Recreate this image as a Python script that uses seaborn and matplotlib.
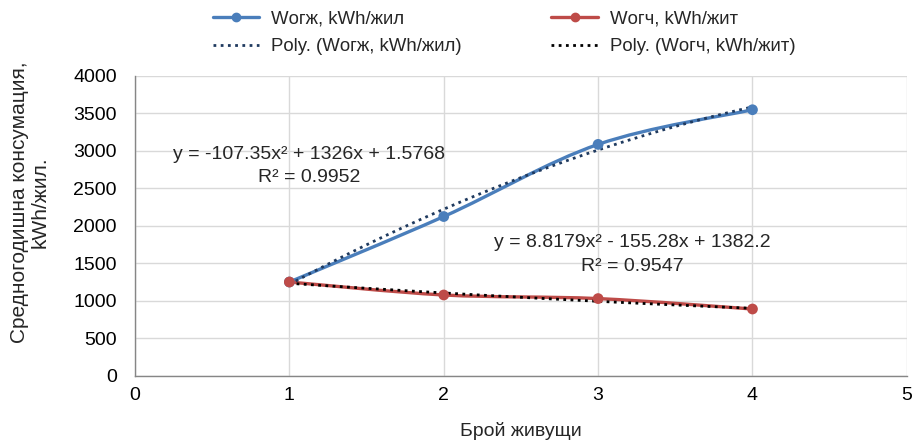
import numpy as np
import pandas as pd
import matplotlib
matplotlib.use("Agg")
import matplotlib.pyplot as plt
import seaborn as sns
from matplotlib.path import Path
from matplotlib.patches import PathPatch
from matplotlib.lines import Line2D

# ---- data ----
residents = [1, 2, 3, 4]
w_ogzh = [1253, 2126, 3088, 3550]   # Wогж, kWh/жил
w_ogch = [1253, 1080, 1032, 893]    # Wогч, kWh/жит
# polynomial trend coefficients (a, b, c) as printed on the chart
coef_ogzh = [-107.35, 1326, 1.5768]
coef_ogch = [8.8179, -155.28, 1382.2]
r2_ogzh = 0.9952
r2_ogch = 0.9547
x_ticks = [0, 1, 2, 3, 4, 5]
y_ticks = [0, 500, 1000, 1500, 2000, 2500, 3000, 3500, 4000]
series_names = ["Wогж, kWh/жил", "Wогч, kWh/жит"]

BLUE = "#4A7EBB"
RED = "#BE4B48"
TREND_BLUE = "#1F3A5F"
TREND_BLACK = "#000000"
FS = 14

sns.set_theme(style="white")
plt.rcParams["font.family"] = ["Liberation Sans", "DejaVu Sans"]

fig = plt.figure(figsize=(9.16, 4.40), dpi=100)
ax = fig.add_axes([0.1474, 0.1455, 0.8426, 0.6818])

df = pd.DataFrame({
    "x": residents * 2,
    "y": w_ogzh + w_ogch,
    "s": [series_names[0]] * 4 + [series_names[1]] * 4,
})


def smooth_path(xs, ys):
    pts = np.column_stack([xs, ys]).astype(float)
    ext = np.vstack([pts[0], pts, pts[-1]])
    verts = [tuple(pts[0])]
    codes = [Path.MOVETO]
    for i in range(len(pts) - 1):
        p0, p1, p2, p3 = ext[i], ext[i + 1], ext[i + 2], ext[i + 3]
        c1 = p1 + (p2 - p0) / 6.0
        c2 = p2 - (p3 - p1) / 6.0
        verts += [tuple(c1), tuple(c2), tuple(p2)]
        codes += [Path.CURVE4] * 3
    return Path(verts, codes)


# trendlines
xx = np.linspace(1, 4, 200)
ax.plot(xx, np.polyval(coef_ogzh, xx), color=TREND_BLUE, lw=2.0,
        ls=(0, (1, 1.6)), zorder=4)
ax.plot(xx, np.polyval(coef_ogch, xx), color=TREND_BLACK, lw=2.0,
        ls=(0, (1, 1.6)), zorder=4)

# smoothed lines
for ys, col in [(w_ogzh, BLUE), (w_ogch, RED)]:
    ax.add_patch(PathPatch(smooth_path(residents, ys), facecolor="none",
                           edgecolor=col, lw=2.4, zorder=3,
                           capstyle="round", joinstyle="round"))

# markers via seaborn
sns.scatterplot(data=df, x="x", y="y", hue="s",
                palette={series_names[0]: BLUE, series_names[1]: RED},
                s=60, edgecolor="none", legend=False, ax=ax, zorder=5)

ax.set_xlim(0, 5)
ax.set_ylim(0, 4000)
ax.set_xticks(x_ticks)
ax.set_yticks(y_ticks)
ax.tick_params(labelsize=FS, colors="#000000", length=0)
ax.tick_params(axis="y", pad=13)
ax.tick_params(axis="x", pad=8)
ax.grid(True, color="#D9D9D9", lw=1)
for side in ["top", "right"]:
    ax.spines[side].set_visible(False)
for side in ["left", "bottom"]:
    ax.spines[side].set_color("#868686")
    ax.spines[side].set_linewidth(1)

ax.set_xlabel("Брой живущи", fontsize=FS, labelpad=13)
ax.set_ylabel("Средногодишна консумация,\nkWh/жил.", fontsize=15,
              linespacing=1.15)
ax.yaxis.set_label_coords(-0.110, 0.58)

# equation labels
ax.text(1.13, 2950, "y = -107.35x² + 1326x + 1.5768", ha="center",
        va="center", fontsize=FS)
ax.text(1.13, 2640, f"R² = {r2_ogzh}", ha="center", va="center", fontsize=FS)
ax.text(3.22, 1775, "y = 8.8179x² - 155.28x + 1382.2", ha="center",
        va="center", fontsize=FS)
ax.text(3.22, 1465, f"R² = {r2_ogch}", ha="center", va="center", fontsize=FS)

handles = [
    Line2D([], [], color=BLUE, lw=2.4, marker="o", ms=6),
    Line2D([], [], color=TREND_BLUE, lw=2.0, ls=(0, (1, 1.6))),
    Line2D([], [], color=RED, lw=2.4, marker="o", ms=6),
    Line2D([], [], color=TREND_BLACK, lw=2.0, ls=(0, (1, 1.6))),
]
labels = [series_names[0], "Poly. (" + series_names[0] + ")",
          series_names[1], "Poly. (" + series_names[1] + ")"]
fig.legend(handles, labels, loc="upper left", bbox_to_anchor=(0.214, 1.015),
           ncol=2, frameon=False, fontsize=13.4, handlelength=2.5,
           columnspacing=4.8, handletextpad=0.65, labelspacing=0.6)

fig.savefig("out.png", dpi=100)
